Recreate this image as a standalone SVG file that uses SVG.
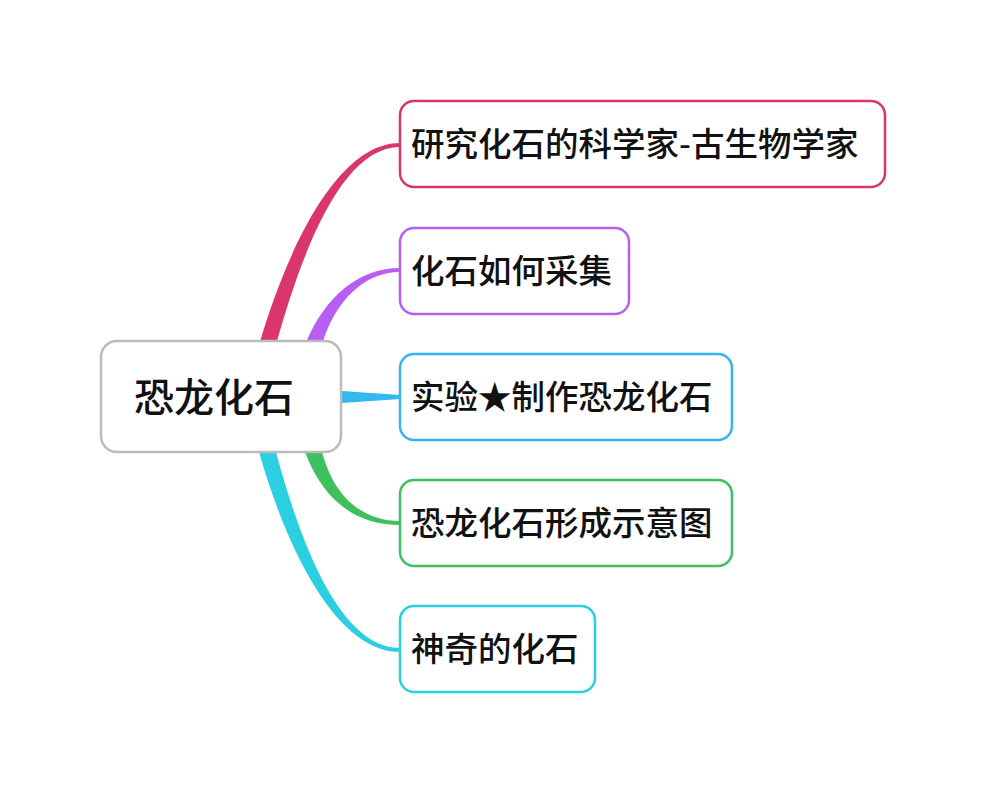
<svg xmlns="http://www.w3.org/2000/svg" width="986" height="794" viewBox="0 0 986 794">
<style>
.n{fill:#fff;stroke-width:2.5}
.t{font-family:"Noto Sans CJK SC","Noto Sans",sans-serif;font-size:33.5px;fill:#111;font-weight:500}
</style>
<rect width="986" height="794" fill="#fff"/>
<g id="connectors">
<path d="M259,345 C290,240 340,143 400,143 L400,147 C345,147 305,240 276,345 Z" fill="#db366c"/>
<path d="M305,345 C325,295 360,268 400,268 L400,272 C365,272 335,300 322,345 Z" fill="#b85ef2"/>
<path d="M342,391 L400,395 L400,399 L342,403 Z" fill="#33b8f2"/>
<path d="M305,452 C325,505 360,525 400,525 L400,521 C365,521 335,500 322,452 Z" fill="#3ec15c"/>
<path d="M259,452 C290,560 340,652 400,652 L400,648 C345,648 305,560 276,452 Z" fill="#2ad0e2"/>
</g>
<g id="center"><rect class="n" x="101" y="341" width="240" height="111" rx="16" stroke="#bbbbbb"/><text class="t" x="214" y="412" text-anchor="middle" style="font-size:40px">恐龙化石</text></g>
<g id="n1"><rect class="n" x="400" y="101" width="485" height="86" rx="14" stroke="#d8356b"/><text class="t" x="411" y="156">研究化石的科学家-古生物学家</text></g>
<g id="n2"><rect class="n" x="400" y="228" width="229" height="86" rx="14" stroke="#b560f0"/><text class="t" x="411" y="283">化石如何采集</text></g>
<g id="n3"><rect class="n" x="400" y="354" width="332" height="86" rx="14" stroke="#35b5ee"/><text class="t" x="411" y="409">实验★制作恐龙化石</text></g>
<g id="n4"><rect class="n" x="400" y="480" width="332" height="86" rx="14" stroke="#3cc060"/><text class="t" x="411" y="535">恐龙化石形成示意图</text></g>
<g id="n5"><rect class="n" x="400" y="606" width="195" height="86" rx="14" stroke="#2bd0e0"/><text class="t" x="411" y="661">神奇的化石</text></g>
</svg>
